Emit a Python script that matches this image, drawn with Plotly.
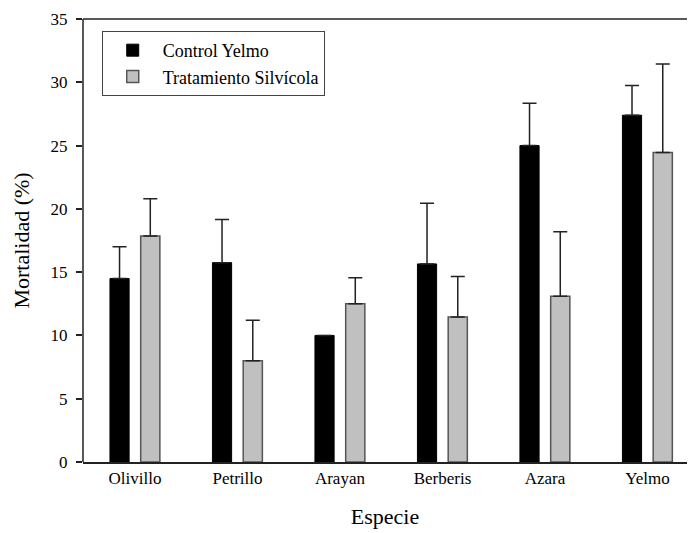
import plotly.graph_objects as go

categories = ["Olivillo", "Petrillo", "Arayan", "Berberis", "Azara", "Yelmo"]
control = [14.5, 15.75, 10.0, 15.65, 25.0, 27.4]
control_err = [2.5, 3.4, 0.0, 4.8, 3.35, 2.35]
treatment = [17.85, 8.0, 12.5, 11.45, 13.1, 24.45]
treatment_err = [2.95, 3.2, 2.05, 3.2, 5.1, 7.0]
y_ticks = [0, 5, 10, 15, 20, 25, 30, 35]

FONT = "'Liberation Serif', 'Times New Roman', serif"

fig = go.Figure()
fig.add_trace(go.Bar(
    name="Control Yelmo", x=categories, y=control,
    offset=-0.244, width=0.187,
    marker=dict(color="#000000", line=dict(color="#000000", width=1)),
    error_y=dict(type="data", symmetric=False, array=control_err,
                 arrayminus=[0] * len(control), color="#222222",
                 thickness=1.5, width=7),
))
fig.add_trace(go.Bar(
    name="Tratamiento Silvícola", x=categories, y=treatment,
    offset=0.056, width=0.187,
    marker=dict(color="#c0c0c0", line=dict(color="#555555", width=1.5)),
    error_y=dict(type="data", symmetric=False, array=treatment_err,
                 arrayminus=[0] * len(treatment), color="#222222",
                 thickness=1.5, width=7),
))

# frame lines: top and left (the plot box runs off the right edge)
fig.add_shape(type="line", xref="paper", yref="paper", x0=0, x1=1, y0=1, y1=1,
              line=dict(color="#222222", width=1.5))
fig.add_shape(type="line", xref="paper", yref="paper", x0=0, x1=0, y0=0, y1=1,
              line=dict(color="#222222", width=1.5))

fig.update_layout(
    width=691, height=533,
    margin=dict(l=83, r=4, t=19, b=71),
    paper_bgcolor="white", plot_bgcolor="white",
    font=dict(family=FONT, size=17, color="#000000"),
    barmode="overlay",
    showlegend=True,
    legend=dict(
        x=0.031, y=0.973, xanchor="left", yanchor="top",
        bgcolor="white", bordercolor="#444444", borderwidth=1,
        font=dict(family=FONT, size=18, color="#000000"),
        itemwidth=50, tracegroupgap=0,
    ),
    xaxis=dict(
        range=[-0.507, 5.386],
        showline=True, linecolor="#222222", linewidth=1.5, mirror=False,
        ticks="", showgrid=False, zeroline=False,
        tickfont=dict(family=FONT, size=17, color="#000000"),
        title=dict(text="Especie", font=dict(family=FONT, size=22, color="#000000"), standoff=21),
    ),
    yaxis=dict(
        range=[0, 35], tickvals=y_ticks,
        showline=False, mirror=False,
        ticks="outside", ticklen=6, tickwidth=1.5, tickcolor="#222222",
        showgrid=False, zeroline=False, ticklabelstandoff=5,
        tickfont=dict(family=FONT, size=17, color="#000000"),
        title=dict(text="Mortalidad (%)", font=dict(family=FONT, size=22, color="#000000"), standoff=14),
    ),
)

fig.write_html("out.html")
